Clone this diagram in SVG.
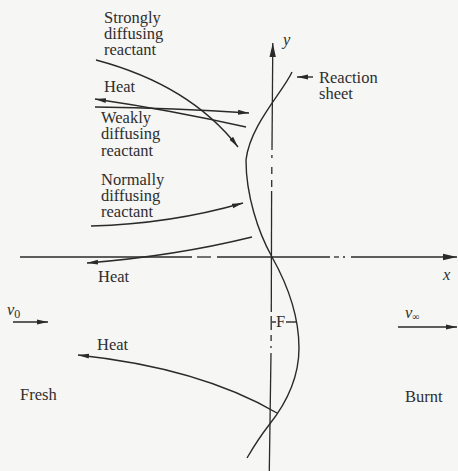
<svg xmlns="http://www.w3.org/2000/svg" width="458" height="471" viewBox="0 0 458 471">
<defs>
<marker id="ah" markerWidth="12" markerHeight="6" refX="11" refY="3" orient="auto" markerUnits="userSpaceOnUse">
<path d="M0,0.6 L11,3 L0,5.4 Z" fill="#2a2a2a"/>
</marker>
<marker id="axh" markerWidth="15" markerHeight="8" refX="14" refY="4" orient="auto" markerUnits="userSpaceOnUse">
<path d="M0,0.8 L14,4 L0,7.2 Z" fill="#2a2a2a"/>
</marker>
</defs>
<style>
text{font-family:'Liberation Serif','DejaVu Serif',serif;font-size:16.5px;fill:#2e2e2e}
.i{font-style:italic}
.ln{fill:none;stroke:#2a2a2a;stroke-width:1.4}
.ax{fill:none;stroke:#2a2a2a;stroke-width:1.3}
</style>
<rect width="458" height="471" fill="#f6f6f4"/>
<g id="axes">
<g id="x-axis">
<line class="ax" x1="20" y1="257" x2="192" y2="257"/>
<line class="ax" x1="197" y1="257" x2="211" y2="257"/>
<line class="ax" x1="217" y1="257" x2="330" y2="257"/>
<line class="ax" x1="334" y1="257" x2="339" y2="257"/>
<line class="ax" x1="343" y1="257" x2="345" y2="257"/>
<line class="ax" x1="351" y1="257" x2="457" y2="257" marker-end="url(#axh)"/>
<text class="i" x="443" y="280" font-family="Liberation Serif, serif">x</text>
</g>
<g id="y-axis">
<line class="ax" x1="272" y1="150" x2="272.8" y2="43" marker-end="url(#axh)"/>
<line class="ax" x1="271.9" y1="155" x2="271.9" y2="158"/>
<line class="ax" x1="271.8" y1="167" x2="271.8" y2="174"/>
<line class="ax" x1="271.7" y1="180" x2="271.7" y2="187"/>
<line class="ax" x1="271.6" y1="191" x2="271.3" y2="312"/>
<line class="ax" x1="271.2" y1="316" x2="271.2" y2="330"/>
<line class="ax" x1="271.1" y1="335" x2="271.1" y2="341"/>
<line class="ax" x1="271" y1="346" x2="271" y2="348"/>
<line class="ax" x1="271" y1="353" x2="269.3" y2="471"/>
<text class="i" x="283" y="45" font-family="Liberation Serif, serif">y</text>
</g>
</g>
<g id="reaction-sheet" font-family="Liberation Serif, serif">
<path class="ln" d="M292,72 C283,92 250,125 246,160 C246,195 258,232 272,257 C286,282 299,315 299,348 C299,380 285,405 269,425 C262,434 254,446 247,458"/>
<line class="ln" x1="313" y1="77" x2="297" y2="77" marker-end="url(#ah)"/>
<text x="319" y="83">Reaction</text>
<text x="319" y="99">sheet</text>
</g>
<g id="connectors">
<path class="ln" d="M96,60 Q190,85 238,147" marker-end="url(#ah)"/>
<path class="ln" d="M246,127 Q170,110 95,99" marker-end="url(#ah)"/>
<path class="ln" d="M95,107 Q175,108 249,113" marker-end="url(#ah)"/>
<path class="ln" d="M91,226 Q170,224 243,203" marker-end="url(#ah)"/>
<path class="ln" d="M252,237 Q175,256 87,263" marker-end="url(#ah)"/>
<path class="ln" d="M277,413 Q200,368 78,355" marker-end="url(#ah)"/>
<line class="ln" x1="13" y1="322" x2="48" y2="322" marker-end="url(#ah)"/>
<line class="ln" x1="398" y1="327" x2="457" y2="327" marker-end="url(#ah)"/>
<line class="ln" x1="272" y1="322" x2="276" y2="322"/>
<line class="ln" x1="286" y1="322" x2="296" y2="322"/>
</g>
<g id="strongly" font-family="Liberation Serif, serif">
<text x="104" y="23">Strongly</text>
<text x="104" y="39">diffusing</text>
<text x="104" y="55">reactant</text>
</g>
<g id="heat-1" font-family="Liberation Serif, serif"><text x="104" y="92">Heat</text></g>
<g id="weakly" font-family="Liberation Serif, serif">
<text x="101" y="123">Weakly</text>
<text x="101" y="139">diffusing</text>
<text x="101" y="156">reactant</text>
</g>
<g id="normally" font-family="Liberation Serif, serif">
<text x="101" y="185">Normally</text>
<text x="101" y="201">diffusing</text>
<text x="101" y="217">reactant</text>
</g>
<g id="heat-2" font-family="Liberation Serif, serif"><text x="98" y="282">Heat</text></g>
<g id="heat-3" font-family="Liberation Serif, serif"><text x="97" y="350">Heat</text></g>
<g id="v0" font-family="Liberation Serif, serif"><text class="i" x="7" y="315">v<tspan font-style="normal" font-size="12" dy="3">0</tspan></text></g>
<g id="vinf" font-family="Liberation Serif, serif"><text class="i" x="405" y="318" font-size="13">v<tspan font-style="normal" font-size="10" dy="2">∞</tspan></text></g>
<g id="F" font-family="Liberation Serif, serif"><text x="276" y="327" font-size="16">F</text></g>
<g id="fresh" font-family="Liberation Serif, serif"><text x="20" y="400">Fresh</text></g>
<g id="burnt" font-family="Liberation Serif, serif"><text x="405" y="402">Burnt</text></g>
</svg>
